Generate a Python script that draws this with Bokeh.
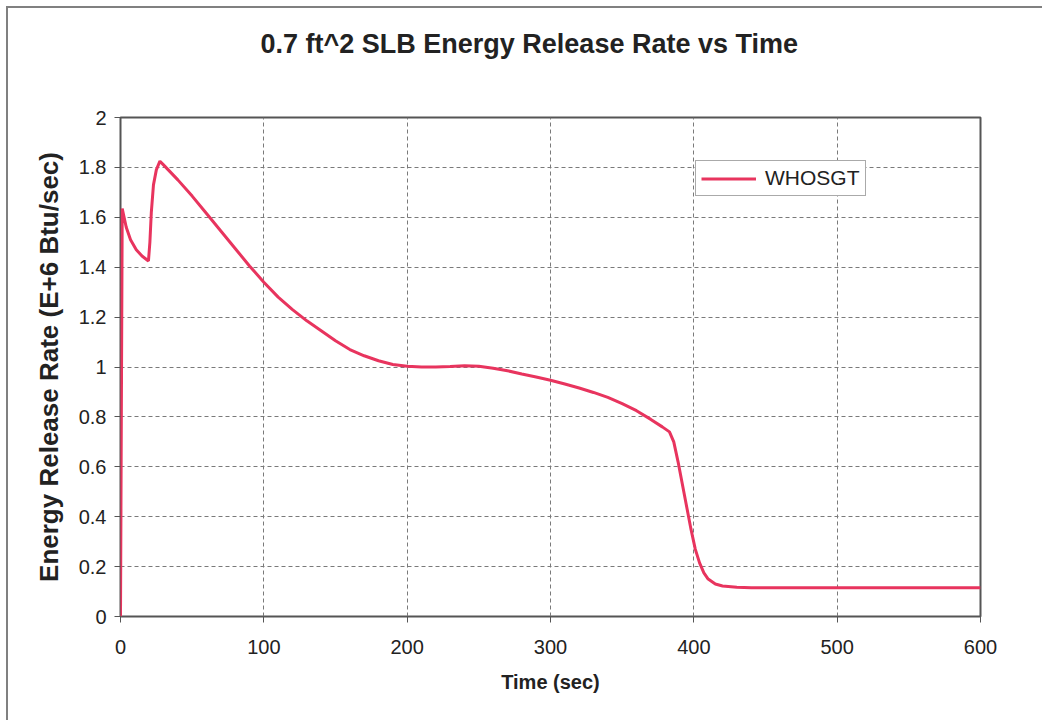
from bokeh.plotting import figure
from bokeh.models import (ColumnDataSource, Legend, LegendItem, FixedTicker,
                          NumeralTickFormatter, Range1d, Title)
from bokeh.embed import file_html
from bokeh.resources import INLINE

# Energy release rate history (E+6 Btu/sec) versus time (sec)
time_sec = [0, 1.2, 4, 7, 11, 15, 19.5, 20.5, 21.5, 23, 25, 27.5, 30, 40, 50,
            60, 70, 80, 90, 100, 110, 120, 130, 140, 150, 160, 170, 180, 190,
            200, 210, 220, 230, 240, 250, 260, 270, 280, 290, 300, 310, 320,
            330, 340, 350, 360, 370, 378, 383, 386, 389, 392, 395, 398, 401,
            404, 407, 410, 415, 420, 430, 440, 460, 500, 550, 600]
whosgt = [0.0, 1.635, 1.56, 1.51, 1.47, 1.445, 1.425, 1.50, 1.62, 1.73, 1.79,
          1.825, 1.81, 1.75, 1.685, 1.615, 1.545, 1.475, 1.405, 1.34, 1.28,
          1.23, 1.185, 1.145, 1.105, 1.07, 1.045, 1.025, 1.01, 1.003, 1.0,
          1.0, 1.002, 1.005, 1.003, 0.995, 0.985, 0.972, 0.96, 0.947, 0.932,
          0.916, 0.898, 0.878, 0.853, 0.825, 0.79, 0.76, 0.74, 0.70, 0.62,
          0.53, 0.44, 0.35, 0.27, 0.215, 0.175, 0.15, 0.13, 0.122, 0.117,
          0.115, 0.115, 0.115, 0.115, 0.115]

x_ticks = [0, 100, 200, 300, 400, 500, 600]
y_ticks = [0, 0.2, 0.4, 0.6, 0.8, 1.0, 1.2, 1.4, 1.6, 1.8, 2.0]

TITLE = "0.7 ft^2 SLB Energy Release Rate vs Time"
FONT = "Liberation Sans"
LINE_COLOR = "#e8345e"

p = figure(width=1036, height=714, output_backend="svg", toolbar_location=None,
           title=None, x_range=Range1d(0, 600), y_range=Range1d(0, 2),
           min_border_left=112, min_border_right=64,
           min_border_top=109, min_border_bottom=106)
p.margin = (6, 0, 0, 6)
p.styles = {"border-top": "2px solid #808080", "border-left": "2px solid #808080"}

# blank band between the heading and the plot frame
p.add_layout(Title(text=" ", text_font_size="2px", standoff=55), "above")
# chart heading (stacked above the blank band)
p.add_layout(Title(text=TITLE, text_font=FONT, text_font_size="27px",
                   text_font_style="bold", text_color="#222222",
                   align="left", offset=140, standoff=0,
                   vertical_align="bottom"), "above")

src = ColumnDataSource(dict(t=time_sec, e=whosgt))
r = p.line("t", "e", source=src, line_color=LINE_COLOR, line_width=3)

p.outline_line_color = "#555555"
p.outline_line_width = 2
p.outline_line_alpha = 1

for ax in (p.xaxis[0], p.yaxis[0]):
    ax.axis_line_color = None
    ax.major_tick_line_color = "#555555"
    ax.major_tick_line_width = 1
    ax.major_tick_out = 6
    ax.major_tick_in = 0
    ax.minor_tick_line_color = None
    ax.major_label_text_font = FONT
    ax.major_label_text_font_size = "20px"
    ax.major_label_text_color = "#222222"
    ax.axis_label_text_font = FONT
    ax.axis_label_text_font_style = "bold"
    ax.axis_label_text_color = "#222222"

p.xaxis.ticker = FixedTicker(ticks=x_ticks)
p.yaxis.ticker = FixedTicker(ticks=y_ticks)
p.yaxis.formatter = NumeralTickFormatter(format="0.[0]")
p.xaxis.axis_label = "Time (sec)"
p.yaxis.axis_label = "Energy Release Rate (E+6 Btu/sec)"
p.xaxis.axis_label_text_font_size = "20px"
p.yaxis.axis_label_text_font_size = "26px"
p.xaxis.major_label_standoff = 17
p.yaxis.major_label_standoff = 8
p.xaxis.axis_label_standoff = 14
p.yaxis.axis_label_standoff = 12

for g in (p.xgrid[0], p.ygrid[0]):
    g.grid_line_color = "#7a7a7a"
    g.grid_line_dash = "4 3"
    g.grid_line_width = 1

legend = Legend(items=[LegendItem(label="WHOSGT", renderers=[r])],
                location=(575, 420))
legend.label_text_font = FONT
legend.label_text_font_size = "21px"
legend.label_text_color = "#222222"
legend.glyph_width = 55
legend.glyph_height = 17
legend.label_height = 17
legend.label_standoff = 9
legend.padding = 5
legend.spacing = 0
legend.margin = 0
legend.border_line_color = "#555555"
legend.border_line_width = 1.5
legend.background_fill_color = "white"
legend.background_fill_alpha = 1
p.add_layout(legend, "center")

open("out.html", "w").write(file_html(p, INLINE))
